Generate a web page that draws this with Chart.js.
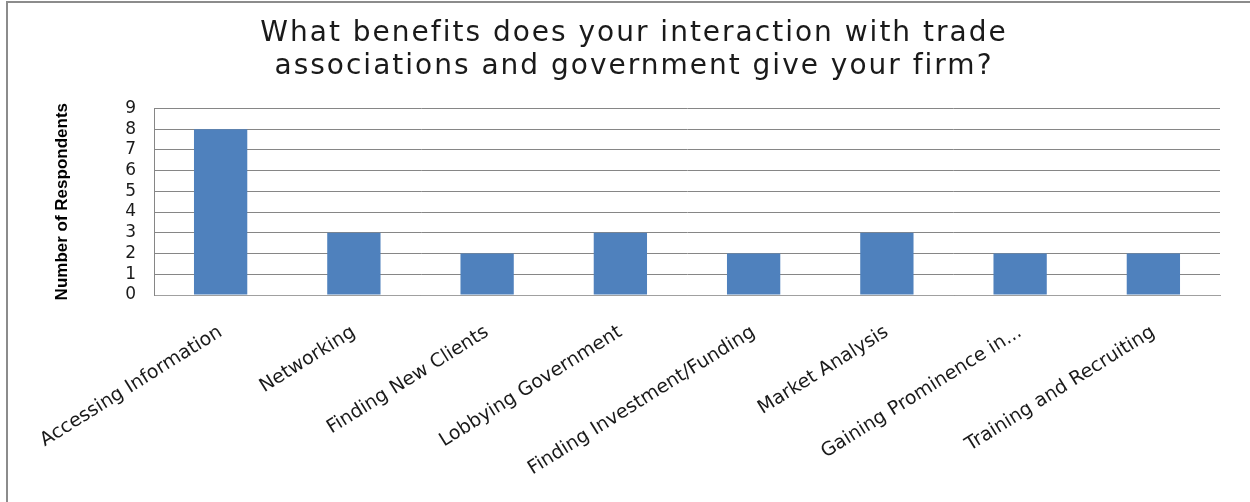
<!DOCTYPE html>
<html>
<head>
<meta charset="utf-8">
<script src="https://cdn.jsdelivr.net/npm/chart.js"></script>
<style>
  html, body { margin: 0; padding: 0; background: #fff; }
  #wrap { position: relative; width: 1250px; height: 502px; overflow: hidden; }
  #frame {
    position: absolute; left: 6px; top: 1px; right: -10px; bottom: -10px;
    border-left: 2px solid #8c8c8c; border-top: 2px solid #8c8c8c;
  }
  #chart { position: absolute; left: 0; top: 0; }
</style>
</head>
<body>
<div id="wrap">
  <div id="frame"></div>
  <canvas id="chart" width="1250" height="502"></canvas>
</div>
<script>
const categories = [
  "Accessing Information",
  "Networking",
  "Finding New Clients",
  "Lobbying Government",
  "Finding Investment/Funding",
  "Market Analysis",
  "Gaining Prominence in...",
  "Training and Recruiting"
];
const respondents = [8, 3, 2, 3, 2, 3, 2, 2];
const yMin = 0;
const yMax = 9;
const yStep = 1;

const chartTitle = [
  "What benefits does your interaction with trade",
  "associations and government give your firm?"
];
const yTitle = "Number of Respondents";

// the original title is set wide, so space its letters out a bit
const spacedTitle = {
  id: "spacedTitle",
  beforeDraw: function (chart) {
    const t = chart.titleBlock;
    if (!t || t._spaced) return;
    const orig = t.draw.bind(t);
    t.draw = function (area) {
      chart.ctx.save();
      chart.ctx.letterSpacing = "2px";
      orig(area);
      chart.ctx.restore();
    };
    t._spaced = true;
  }
};

document.addEventListener("DOMContentLoaded", function () {
  const canvas = document.getElementById("chart");

  new Chart(canvas.getContext("2d"), {
    type: "bar",
    data: {
      labels: categories,
      datasets: [{
        label: yTitle,
        data: respondents,
        backgroundColor: "#4f81bd",
        borderWidth: 0,
        barPercentage: 0.4,
        categoryPercentage: 1.0
      }]
    },
    plugins: [spacedTitle],
    options: {
      responsive: false,
      animation: false,
      layout: {
        padding: { left: 48, right: 30, top: 2, bottom: 0 }
      },
      plugins: {
        legend: { display: false },
        tooltip: { enabled: false },
        title: {
          display: true,
          text: chartTitle,
          color: "#1a1a1a",
          font: { family: "DejaVu Sans", size: 28, weight: "normal", lineHeight: 1.15 },
          padding: { top: 16, bottom: 26 }
        }
      },
      scales: {
        x: {
          grid: { display: false },
          border: { color: "#a0a0a0" },
          ticks: {
            autoSkip: false,
            maxRotation: 32,
            minRotation: 32,
            padding: 18,
            color: "#1a1a1a",
            font: { family: "DejaVu Sans", size: 19 }
          },
          afterFit: function (scale) { scale.height = 207; }
        },
        y: {
          min: yMin,
          max: yMax,
          grid: { color: "#868686", drawTicks: false },
          border: { color: "#868686" },
          ticks: {
            stepSize: yStep,
            autoSkip: false,
            padding: 18,
            color: "#1a1a1a",
            font: { family: "DejaVu Sans", size: 17 }
          },
          title: {
            display: true,
            text: yTitle,
            color: "#000",
            font: { family: "Liberation Sans", size: 17, weight: "bold" },
            padding: { top: 4, bottom: 0 }
          },
          afterFit: function (scale) { scale.width = 106; }
        }
      }
    }
  });
});
</script>
</body>
</html>
